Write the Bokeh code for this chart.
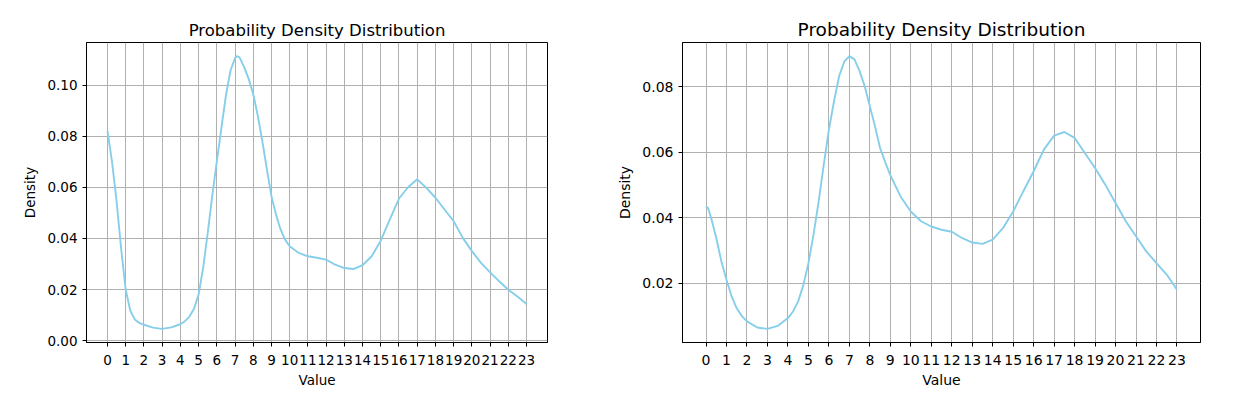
from bokeh.plotting import figure
from bokeh.layouts import row
from bokeh.models import ColumnDataSource, Range1d, FixedTicker
from bokeh.embed import file_html
from bokeh.resources import INLINE

# values
left_x = [0, 0.25, 0.5, 0.75, 1, 1.25, 1.5, 1.75, 2, 2.5, 3, 3.5, 4, 4.25, 4.5, 4.75,
          5, 5.25, 5.5, 5.75, 6, 6.25, 6.5, 6.75, 7, 7.1, 7.25, 7.5, 7.75, 8, 8.25, 8.5,
          8.75, 9, 9.25, 9.5, 9.75, 10, 10.5, 11, 11.5, 12, 12.5, 13, 13.5, 14, 14.5,
          15, 15.5, 16, 16.5, 17, 17.5, 18, 18.5, 19, 19.5, 20, 20.5, 21, 21.5, 22,
          22.5, 23]
left_density = [0.0821, 0.070, 0.0546, 0.036, 0.020, 0.0118, 0.0083, 0.0069, 0.0062,
                0.0051, 0.0046, 0.0052, 0.0064, 0.0076, 0.0094, 0.0125, 0.018, 0.0284,
                0.042, 0.0565, 0.070, 0.083, 0.0958, 0.1056, 0.1105, 0.1113, 0.1108,
                0.107, 0.1024, 0.0965, 0.088, 0.078, 0.067, 0.0565, 0.0493, 0.0435,
                0.0395, 0.0369, 0.0343, 0.033, 0.0324, 0.0317, 0.0297, 0.0284, 0.028,
                0.0295, 0.033, 0.0391, 0.0474, 0.0556, 0.060, 0.0631, 0.0598, 0.0559,
                0.0513, 0.0467, 0.0402, 0.035, 0.0304, 0.0267, 0.0232, 0.0199, 0.0173,
                0.0143]

right_x = [0, 0.1, 0.25, 0.5, 0.75, 1, 1.25, 1.5, 1.75, 2, 2.5, 3, 3.5, 4, 4.25, 4.5,
           4.75, 5, 5.25, 5.5, 5.75, 6, 6.25, 6.5, 6.75, 7, 7.25, 7.5, 7.75, 8, 8.25,
           8.5, 8.75, 9, 9.5, 10, 10.5, 11, 11.5, 12, 12.5, 13, 13.5, 14, 14.5, 15,
           15.5, 16, 16.5, 17, 17.5, 18, 18.5, 19, 19.5, 20, 20.5, 21, 21.5, 22, 22.5,
           23]
right_density = [0.0435, 0.0429, 0.0399, 0.0338, 0.0266, 0.021, 0.0159, 0.0123, 0.0099,
                 0.0083, 0.0064, 0.006, 0.0069, 0.0093, 0.0113, 0.0144, 0.0193, 0.0261,
                 0.0348, 0.045, 0.0562, 0.0669, 0.0756, 0.0833, 0.0877, 0.0894, 0.0884,
                 0.0848, 0.0802, 0.0741, 0.068, 0.0613, 0.057, 0.053, 0.0465, 0.0419,
                 0.0389, 0.0373, 0.0363, 0.0357, 0.0338, 0.0324, 0.032, 0.0333, 0.0368,
                 0.0419, 0.0481, 0.0542, 0.0608, 0.0651, 0.0662, 0.0644, 0.0598, 0.0552,
                 0.0501, 0.0445, 0.0389, 0.0343, 0.0297, 0.0261, 0.0226, 0.018]

x_ticks = list(range(24))
left_y_ticks = [0.00, 0.02, 0.04, 0.06, 0.08, 0.10]
right_y_ticks = [0.02, 0.04, 0.06, 0.08]

TITLE = "Probability Density Distribution"
FONT = "DejaVu Sans"


def density_plot(xs, ys, y_ticks, width, border_left, border_right, tick_size, title_size):
    ymin, ymax = min(ys), max(ys)
    pad = (ymax - ymin) * 0.05
    p = figure(width=width, height=400, title=TITLE,
               x_range=Range1d(-1.15, 24.15), y_range=Range1d(ymin - pad, ymax + pad),
               x_axis_label="Value", y_axis_label="Density",
               output_backend="svg", toolbar_location=None,
               min_border_left=border_left, min_border_right=border_right,
               min_border_top=42, min_border_bottom=58)
    p.background_fill_color = "white"
    p.border_fill_color = "white"
    p.outline_line_color = "black"
    p.outline_line_width = 1

    p.title.align = "center"
    p.title.text_font = FONT
    p.title.text_font_style = "normal"
    p.title.text_font_size = title_size
    p.title.text_color = "black"
    p.title.standoff = 5

    p.xaxis.ticker = FixedTicker(ticks=x_ticks)
    p.yaxis.ticker = FixedTicker(ticks=y_ticks)
    p.yaxis.major_label_overrides = {t: "%.2f" % t for t in y_ticks}

    for ax in (p.xaxis, p.yaxis):
        ax.axis_line_color = "black"
        ax.major_tick_line_color = "black"
        ax.minor_tick_line_color = None
        ax.major_tick_in = 0
        ax.major_tick_out = 4
        ax.major_label_standoff = 5
        ax.major_label_text_font = FONT
        ax.major_label_text_font_size = tick_size
        ax.major_label_text_color = "black"
        ax.axis_label_text_font = FONT
        ax.axis_label_text_font_size = tick_size
        ax.axis_label_text_font_style = "normal"
        ax.axis_label_text_color = "black"
        ax.axis_label_standoff = 6
    p.xaxis.major_label_standoff = 8
    p.xaxis.axis_label_standoff = 4

    p.grid.grid_line_color = "#b0b0b0"
    p.grid.grid_line_width = 1

    src = ColumnDataSource(data=dict(x=xs, y=ys))
    p.line("x", "y", source=src, line_color="skyblue", line_width=1.9)
    return p


left = density_plot(left_x, left_density, left_y_ticks, 614, 86, 67, "13.5px", "16.5px")
right = density_plot(right_x, right_density, right_y_ticks, 618, 67, 32, "14px", "18.5px")

layout = row(left, right)
open("out.html", "w").write(file_html(layout, INLINE))
